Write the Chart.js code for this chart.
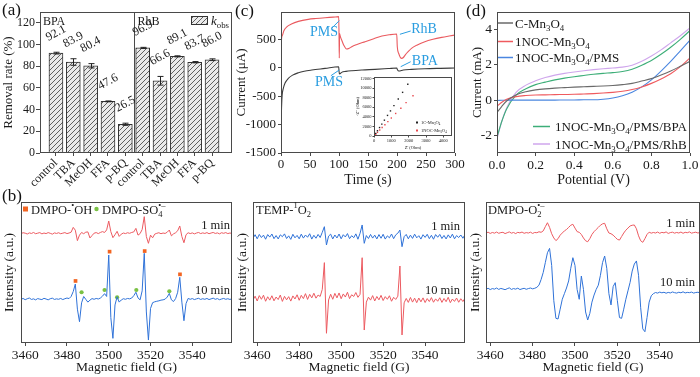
<!DOCTYPE html>
<html><head><meta charset="utf-8">
<script src="https://cdn.jsdelivr.net/npm/chart.js@4.4.0/dist/chart.umd.min.js"></script>
<style>
html,body{margin:0;padding:0;background:#fff;width:700px;height:377px;overflow:hidden;position:relative;font-family:"Liberation Serif","Times New Roman",serif}
canvas{position:absolute}
.pl{position:absolute;font-size:17px;color:#111;line-height:17px}
</style></head><body>
<canvas id="ca" width="240" height="190" style="left:0;top:0;width:240px;height:190px"></canvas>
<canvas id="cc" width="240" height="190" style="left:225px;top:0;width:240px;height:190px"></canvas>
<canvas id="ci" width="104" height="82" style="left:352px;top:72px;width:104px;height:82px"></canvas>
<canvas id="cd" width="240" height="190" style="left:460px;top:0;width:240px;height:190px"></canvas>
<canvas id="cb1" width="240" height="182" style="left:0;top:195px;width:240px;height:182px"></canvas>
<canvas id="cb2" width="240" height="182" style="left:230px;top:195px;width:240px;height:182px"></canvas>
<canvas id="cb3" width="240" height="182" style="left:460px;top:195px;width:240px;height:182px"></canvas>
<div class="pl" style="left:2px;top:1px">(a)</div>
<div class="pl" style="left:2px;top:187px">(b)</div>
<div class="pl" style="left:235px;top:2px">(c)</div>
<div class="pl" style="left:466px;top:2px">(d)</div>
<script>
// ---------------- DATA ----------------
// (a) removal rates
const scavengers = ['control','TBA','MeOH','FFA','p-BQ','control','TBA','MeOH','FFA','p-BQ'];
const removal = [92.1, 83.9, 80.4, 47.6, 26.5, 96.9, 66.6, 89.1, 83.7, 86.0];
const removalErr = [0.8, 3.0, 2.0, 0.4, 1.0, 0.5, 4.0, 0.5, 0.6, 0.8];
const barPos = [1,2,3,4,5,6,7,8,9,10];
const rateTicks = [0,20,40,60,80,100,120];

// (c) i-t curves
const timeRhB = [0,0.5,2,5,10,18,30,47,60,76,90,99.5,100,100.5,101,102,104.6,108,113,118,122,130,145,160,174,187,199.5,200.5,203,208,211,214,220,225,235,248,262,277,290,300];
const currentRhB = [-1500,400,560,650,720,769,815,851,866,880,890,898,610,170,600,560,487,400,329,345,370,405,458,510,557,580,593,370,250,164,180,223,290,340,400,458,500,534,558,575];
const timeBPA = [0,0.5,1,2,4,7,12.6,20,30,40,53,76,99.5,100,101,104.6,112,122,140,162,185,199.5,201,203,211,225,248,275,300];
const currentBPA = [-1500,-900,-687,-480,-364,-270,-188,-130,-88,-62,-41,-12,18,-60,-111,-82,-65,-53,-40,-29,-15,-6,-40,-59,-41,-30,-18,-11,-6];
const timeTicks = [0,50,100,150,200,250,300];
const currentTicks = [-1500,-1000,-500,0,500];
// (c) inset Nyquist
const zReC = [0,100,200,320,450,600,780,950,1150,1400,1650,1950];
const zImC = [0,550,1100,1760,2480,3300,4290,5230,6330,7700,9100,10800];
const zReN = [0,100,200,330,470,630,800,1000,1250,1550,1850,2250];
const zImN = [0,380,760,1240,1760,2360,3000,3750,4700,5800,6950,8400];
const zReTicks = [0,1000,2000,3000,4000];
const zImTicks = [0,2000,4000,6000,8000,10000,12000];

// (d) LSV
const potential = [0,0.025,0.05,0.1,0.15,0.2,0.25,0.3,0.35,0.4,0.45,0.5,0.55,0.6,0.65,0.7,0.75,0.8,0.85,0.9,0.95,1.0];
const lsvC = [-0.7,-0.35,-0.05,0.3,0.48,0.58,0.64,0.68,0.71,0.74,0.76,0.78,0.8,0.83,0.88,0.95,1.08,1.22,1.42,1.65,1.92,2.2];
const lsvN = [-0.35,-0.12,0.05,0.2,0.26,0.29,0.3,0.31,0.32,0.33,0.35,0.37,0.4,0.44,0.5,0.6,0.75,0.95,1.2,1.5,1.9,2.4];
const lsvPMS = [-0.02,-0.01,0,0,0,0,0,0,0.01,0.01,0.02,0.02,0.05,0.12,0.25,0.45,0.75,1.15,1.65,2.2,2.8,3.4];
const lsvBPA = [-2.1,-1.2,-0.5,0.3,0.65,0.88,1.02,1.15,1.25,1.33,1.4,1.47,1.52,1.56,1.62,1.75,1.98,2.25,2.6,3.0,3.45,3.95];
const lsvRhB = [-2.2,-1.2,-0.45,0.45,0.85,1.1,1.28,1.42,1.52,1.6,1.67,1.73,1.78,1.82,1.87,1.98,2.2,2.5,2.85,3.25,3.65,4.1];
const potTicks = [0,0.2,0.4,0.6,0.8,1.0];
const lsvTicks = [-2,0,2,4];

// (b) EPR spectra, one value per gauss starting at fieldStart
const fieldStart = 3458, fieldStep = 1;
const fieldTicks = [3460,3480,3500,3520,3540];
const ohOneMin = [77.6,78.2,77.9,77.3,78.1,77.7,78.4,77.5,77.9,78.3, 77.4,78.0,77.6,78.3,77.8,77.2,78.1,77.7,78.2,77.5,
 77.9,78.3,77.6,78.0,78.6,82.0,80.0,72.6,76.5,78.4, 77.5,78.6,78.8,74.5,76.2,77.9,78.3,77.6,78.4,79.0,
 78.4,80.2,86.5,79.0,74.7,76.8,79.2,75.6,77.2,78.0, 77.6,78.2,77.8,78.4,78.8,81.3,76.5,77.6,80.5,89.6,
 75.5,70.7,76.5,74.6,77.2,77.8,78.2,77.5,78.0,77.7, 78.6,80.1,76.0,77.4,78.2,79.6,83.0,75.5,71.1,76.8,
 78.2,77.6,78.1,77.4,78.0,78.4,77.6,78.1,77.7,78.3, 77.5,78.0,78.4,77.7,78.1,77.4,78.2,77.8,78.3,77.6, 78.0,77.7];
const ohTenMin = [31.0,31.6,30.7,31.4,31.9,30.9,31.3,30.6,31.5,31.1, 30.8,31.7,31.2,30.6,31.4,31.8,30.9,31.3,31.0,31.6,
 30.8,31.4,31.9,31.5,33.0,36.5,41.8,24.0,15.1,28.5, 33.0,31.0,29.0,30.4,31.5,31.0,31.6,31.2,31.9,33.2,
 35.0,33.0,62.4,18.0,3.3,27.0,32.8,29.0,30.5,31.4, 31.0,31.6,31.3,31.9,33.6,36.0,32.0,30.6,37.0,63.6,
 22.0,2.1,24.5,28.6,29.2,29.6,29.9,30.4,30.6,31.1, 32.6,35.2,30.6,29.4,31.5,36.0,46.6,29.0,15.8,28.0,
 31.6,31.0,31.5,30.8,31.3,31.7,30.9,31.4,31.0,31.6, 30.8,31.3,31.8,31.0,31.5,30.7,31.2,31.6,31.0,31.4, 30.9,31.3];
const ohMarkX = [3484.1,3500.4,3517.2,3534.1];
const ohMarkY = [44.0,64.8,65.2,48.7];
const so4MarkX = [3487,3498,3504,3513.2,3529];
const so4MarkY = [36.0,37.6,32.4,37.6,36.7];
const tempOneMin = [74.2,76.8,73.9,77.0,74.8,76.5,73.6,76.9,75.1,77.3, 74.0,76.2,73.8,76.7,75.4,77.4,74.1,76.0,73.5,77.1,
 74.6,76.3,73.9,77.2,74.4,76.6,75.0,77.5,73.7,76.4, 74.3,77.0,74.8,78.5,82.5,69.5,75.8,77.2,73.8,76.6,
 74.5,77.3,73.9,76.8,75.2,77.6,74.0,76.1,74.7,77.4, 73.6,77.8,83.7,70.7,76.2,74.1,77.0,74.4,76.5,73.8,
 76.9,74.3,77.1,73.7,76.0,74.6,77.3,74.0,76.7,77.9, 80.1,68.3,75.4,77.0,73.9,76.5,74.2,77.2,74.6,76.1,
 73.7,76.8,74.9,77.1,74.0,76.4,73.6,76.9,75.0,77.0, 74.1,76.3,73.8,76.7,74.5,77.2,73.9,76.2,74.8,76.6, 74.3,76.9];
const tempTenMin = [30.5,33.2,29.8,33.6,31.0,33.9,29.6,32.8,30.4,33.5, 29.9,32.6,30.8,34.0,29.5,33.1,30.6,32.9,29.7,33.4,
 31.2,34.2,30.3,33.8,31.5,35.0,30.9,34.5,32.0,35.3, 31.8,34.0,33.0,38.0,57.0,6.9,30.5,34.6,31.0,35.2,
 32.0,35.5,31.4,34.8,32.6,36.0,31.5,34.2,33.0,35.8, 32.4,34.5,60.5,9.2,29.0,32.5,30.4,33.6,29.8,33.0,
 30.6,33.8,30.1,32.9,31.0,33.5,29.6,32.4,30.9,33.2, 54.6,5.7,28.5,31.6,28.8,32.3,29.0,31.8,28.6,31.9,
 29.2,32.0,28.7,31.5,29.4,32.2,28.9,31.3,29.6,32.1, 28.8,31.6,29.3,32.4,28.6,31.2,29.5,31.9,28.9,31.4, 29.4,31.8];
const o2OneMin = [78.0,78.6,77.7,78.4,77.9,78.7,77.8,78.3,78.5,77.6, 78.2,78.8,77.9,78.4,77.6,78.5,78.1,78.7,77.8,78.3,
 78.0,78.6,77.7,78.4,78.2,78.9,78.5,79.5,82.5,85.3, 82.0,77.5,74.5,72.6,74.0,76.5,78.0,79.5,80.5,82.0,
 83.5,84.2,81.5,79.0,78.5,77.0,74.5,72.5,71.8,74.0, 77.0,79.0,80.5,82.0,83.5,84.5,84.9,81.0,78.0,77.5,
 76.5,75.0,73.5,73.0,75.5,78.0,80.0,81.5,83.0,83.5, 83.7,81.0,76.0,72.5,71.4,74.0,77.0,78.6,77.9,78.4,
 78.0,78.7,77.8,78.5,78.1,78.8,77.7,78.3,78.6,77.9, 78.4,78.0,78.7,77.8,78.5,78.2,78.8,77.9,78.3,78.6, 78.0,78.4];
const o2TenMin = [38.1,38.8,37.9,38.6,38.2,39.0,38.0,38.7,38.3,37.8, 38.5,39.1,38.0,38.6,38.2,38.9,37.9,38.4,38.8,38.1,
 38.6,39.0,38.4,38.8,39.5,41.0,45.0,50.0,57.0,64.0, 67.1,55.0,30.0,17.5,17.0,24.0,31.0,35.0,39.0,44.0,
 53.0,60.5,55.0,38.0,31.0,47.5,38.0,22.0,16.3,21.0, 29.0,34.0,38.0,41.0,48.0,57.0,61.7,53.0,35.0,27.0,
 40.0,42.8,30.0,18.0,17.5,24.0,31.0,37.0,43.0,51.0, 56.0,58.2,48.0,25.0,10.0,8.0,18.0,29.0,33.5,35.0,
 35.8,35.4,36.1,35.6,36.0,35.3,35.9,35.5,36.2,35.7, 35.4,36.0,35.6,36.3,35.5,35.9,35.7,36.1,35.4,35.8, 36.0,35.6];

// ---------------- STYLE / HELPERS ----------------
const SERIF = '"Liberation Serif","Times New Roman",serif';
const AXIS = '#4a4a4a', TXT = '#1a1a1a', NOTE = '#2a9de0';
Chart.defaults.font.family = SERIF;
Chart.defaults.font.size = 13;
Chart.defaults.color = TXT;
Chart.defaults.animation = false;
Chart.defaults.responsive = false;
Chart.defaults.plugins.legend.display = false;
Chart.defaults.plugins.tooltip.enabled = false;
Chart.defaults.elements.point.radius = 0;
Chart.defaults.elements.line.borderWidth = 1;

function axis(o){
  return {
    type:'linear', min:o.min, max:o.max, offset:false,
    afterBuildTicks: s => { s.ticks = o.ticks.map(v=>({value:v})); },
    afterFit: s => {
      if (o.horizontal) s.height = o.size; else s.width = o.size;
      s.paddingLeft = 0; s.paddingRight = 0; s.paddingTop = 0; s.paddingBottom = 0;
    },
    border:{display:false},
    grid:{drawOnChartArea:false, drawTicks:o.tickLen!==0, tickLength:o.tickLen===undefined?4:o.tickLen, color:AXIS, offset:false},
    ticks:{display:o.showLabels!==false, font:{size:o.tickFont||13}, padding:o.tickPad===undefined?2:o.tickPad,
      autoSkip:false, maxRotation:o.rotate||0, minRotation:o.rotate||0, color:TXT,
      callback: o.labels ? (v,i)=>o.labels[i] : (o.fmt || (v=>String(v)))},
    title: o.title ? {display:true, text:o.title, font:{size:o.titleFont||13}, padding:o.titlePad||{top:0,bottom:0}, color:TXT} : {display:false}
  };
}
const frame = { id:'frame', afterDraw(chart){
  const {ctx, chartArea:a} = chart; ctx.save(); ctx.strokeStyle = AXIS; ctx.lineWidth = 1;
  ctx.strokeRect(Math.round(a.left)+0.5, Math.round(a.top)+0.5, Math.round(a.right-a.left)-1, Math.round(a.bottom-a.top)-1);
  ctx.restore(); } };
function rich(ctx, x, y, parts, size, align, color){
  const fnt = (sz,it)=>`${it?'italic ':''}${sz}px ${SERIF}`;
  let w=0, ls=0, le=0; const pos=[];
  parts.forEach(([t,k])=>{
    const small = k==='sub'||k==='sup'||k==='supo';
    ctx.font = fnt(small?size*0.68:size, k==='it');
    const tw = ctx.measureText(t).width;
    if (k==='supo'){ pos.push(ls); w = Math.max(le, ls+tw); }
    else { pos.push(w); ls=w; le=w+tw; w=w+tw; }
  });
  const x0 = align==='right'? x-w : align==='center'? x-w/2 : x;
  ctx.save(); ctx.fillStyle = color||TXT; ctx.textAlign='left'; ctx.textBaseline='alphabetic';
  parts.forEach(([t,k],i)=>{
    const small = k==='sub'||k==='sup'||k==='supo';
    ctx.font = fnt(small?size*0.68:size, k==='it');
    const dy = k==='sub'? size*0.25 : (k==='sup'||k==='supo')? -size*0.42 : 0;
    ctx.fillText(t, x0+pos[i], y+dy);
  });
  ctx.restore(); return w;
}
function textPlugin(fn){ return { id:'txt'+Math.random().toString(36).slice(2), afterDraw(chart){ fn(chart, chart.ctx); } }; }
const xy = (xs, ys) => xs.map((x,i)=>({x, y:ys[i]}));

// hatch pattern
function hatchPattern(){
  const c = document.createElement('canvas'); c.width = c.height = 5;
  const g = c.getContext('2d'); g.fillStyle = '#eaeaea'; g.fillRect(0,0,5,5);
  g.strokeStyle = '#505050'; g.lineWidth = 0.9; g.beginPath();
  g.moveTo(0,5); g.lineTo(5,0); g.moveTo(-1,1); g.lineTo(1,-1); g.moveTo(4,6); g.lineTo(6,4); g.stroke();
  return g.createPattern(c, 'repeat');
}
const HATCH = hatchPattern();

// ---------------- (a) ----------------
const barExtras = { id:'barExtras', afterDatasetsDraw(chart){
  const {ctx, scales:{x,y}, chartArea:a} = chart; const meta = chart.getDatasetMeta(0);
  ctx.save();
  const dx = Math.round(x.getPixelForValue((barPos[4]+barPos[5])/2))+0.5;
  ctx.strokeStyle = AXIS; ctx.lineWidth = 1; ctx.beginPath(); ctx.moveTo(dx,a.top); ctx.lineTo(dx,a.bottom); ctx.stroke();
  ctx.strokeStyle = '#222';
  meta.data.forEach((bar,i)=>{
    const v = removal[i], e = removalErr[i], cx = Math.round(bar.x)+0.5;
    const yt = y.getPixelForValue(v+e), yb = y.getPixelForValue(v-e);
    ctx.beginPath(); ctx.moveTo(cx,yt); ctx.lineTo(cx,yb); ctx.moveTo(cx-3,yt); ctx.lineTo(cx+3,yt); ctx.moveTo(cx-3,yb); ctx.lineTo(cx+3,yb); ctx.stroke();
    ctx.save(); ctx.translate(bar.x, yt-19); ctx.rotate(-28*Math.PI/180);
    ctx.font = `12px ${SERIF}`; ctx.fillStyle = TXT; ctx.textAlign='center'; ctx.textBaseline='middle';
    ctx.fillText(v.toFixed(1), 0, 0); ctx.restore();
  });
  ctx.font = `12px ${SERIF}`; ctx.fillStyle = TXT; ctx.textAlign='left'; ctx.textBaseline='alphabetic';
  ctx.fillText('BPA', a.left+3, a.top+13); ctx.fillText('RhB', dx+3, a.top+13);
  ctx.fillStyle = HATCH; ctx.fillRect(191,16,17,9); ctx.strokeStyle='#333'; ctx.strokeRect(191.5,16.5,16,8);
  ctx.restore();
  rich(ctx, 211, 25, [['k','it'],['obs','sub']], 13, 'left');
} };
new Chart(document.getElementById('ca'), {
  type:'bar',
  data:{datasets:[{data: xy(barPos, removal), backgroundColor: HATCH, borderColor:'#333', borderWidth:1, barThickness:14}]},
  options:{
    layout:{padding:{left:0, top:12, right:8, bottom:0}},
    scales:{
      x: axis({min:0.08, max:11.15, ticks:barPos, labels:scavengers, horizontal:true, size:37, rotate:45, tickFont:12, tickPad:0, tickLen:3}),
      y: axis({min:0, max:130, ticks:rateTicks, size:40, tickFont:12, tickPad:1, title:'Removal rate (%)', titleFont:13, titlePad:{top:1,bottom:0}})
    }
  },
  plugins:[barExtras, frame]
});

// ---------------- (c) ----------------
const cNotes = [
  {text:'PMS', at:[74,628], from:[87.4,694], to:[100.5,828]},
  {text:'RhB', at:[246.7,681], from:[223.6,646], to:[205,588]},
  {text:'BPA', at:[248,118], from:[223.6,106], to:[206.4,18]},
  {text:'PMS', at:[82.8,-252], from:[86,-141], to:[100.5,-40]}
];
new Chart(document.getElementById('cc'), {
  type:'line',
  data:{datasets:[
    {data: xy(timeBPA, currentBPA), borderColor:'#3c3c3c', borderWidth:1.1, cubicInterpolationMode:'monotone'},
    {data: xy(timeRhB, currentRhB), borderColor:'#ea5a5f', borderWidth:1.1, cubicInterpolationMode:'monotone'}
  ]},
  options:{
    layout:{padding:{left:0, top:12, right:10, bottom:0}},
    scales:{
      x: axis({min:0, max:300, ticks:timeTicks, horizontal:true, size:37, tickLen:3, tickPad:1, title:'Time (s)', titleFont:14, titlePad:{top:0,bottom:1}}),
      y: axis({min:-1500, max:980, ticks:currentTicks, size:56, tickLen:3, tickPad:2, title:'Current (\u03bcA)', titleFont:13, titlePad:{top:9,bottom:0}})
    }
  },
  plugins:[frame, textPlugin((chart, ctx)=>{
    const {x,y} = chart.scales; ctx.save();
    ctx.strokeStyle = NOTE; ctx.lineWidth = 1; ctx.fillStyle = NOTE; ctx.font = `14px ${SERIF}`; ctx.textAlign='center'; ctx.textBaseline='middle';
    cNotes.forEach(n=>{
      ctx.beginPath(); ctx.moveTo(x.getPixelForValue(n.from[0]), y.getPixelForValue(n.from[1]));
      ctx.lineTo(x.getPixelForValue(n.to[0]), y.getPixelForValue(n.to[1])); ctx.stroke();
      ctx.fillText(n.text, x.getPixelForValue(n.at[0]), y.getPixelForValue(n.at[1]));
    });
    ctx.restore();
  })]
});
// inset
new Chart(document.getElementById('ci'), {
  type:'scatter',
  data:{datasets:[
    {data: xy(zReC, zImC), backgroundColor:'#222', borderColor:'#222', pointStyle:'rect', pointRadius:1, borderWidth:0},
    {data: xy(zReN, zImN), backgroundColor:'#e84a4f', borderColor:'#e84a4f', pointStyle:'rect', pointRadius:1, borderWidth:0}
  ]},
  options:{
    layout:{padding:{left:0, top:5, right:1, bottom:0}},
    scales:{
      x: axis({min:0, max:4500, ticks:zReTicks, horizontal:true, size:18, tickLen:1.5, tickPad:1, tickFont:4.5, title:"Z' (Ohm)", titleFont:4.5, titlePad:{top:0,bottom:3}}),
      y: axis({min:0, max:12300, ticks:zImTicks, size:22, tickLen:1.5, tickPad:1, tickFont:4.5, title:"-Z'' (Ohm)", titleFont:4.5, titlePad:{top:3,bottom:0}})
    }
  },
  plugins:[frame, textPlugin((chart, ctx)=>{
    ctx.save(); ctx.fillStyle='#222'; ctx.fillRect(64,49.5,2,2); ctx.fillStyle='#e84a4f'; ctx.fillRect(64,57.5,2,2); ctx.restore();
    rich(ctx, 69, 52.3, [['1C-Mn'],['3','sub'],['O'],['4','sub']], 4.5, 'left');
    rich(ctx, 69, 60.3, [['1NOC-Mn'],['3','sub'],['O'],['4','sub']], 4.5, 'left');
  })]
});

// ---------------- (d) ----------------
const dColors = ['#6a6a6a','#ef5a5e','#4a86e0','#3dae78','#cfa6ec'];
const dLegend = [
  {parts:[['C-Mn'],['3','sub'],['O'],['4','sub']], lx:[38,53], tx:55, y:23},
  {parts:[['1NOC-Mn'],['3','sub'],['O'],['4','sub']], lx:[38,53], tx:55, y:41.5},
  {parts:[['1NOC-Mn'],['3','sub'],['O'],['4','sub'],['/PMS']], lx:[38,53], tx:55, y:57.5},
  {parts:[['1NOC-Mn'],['3','sub'],['O'],['4','sub'],['/PMS/BPA']], lx:[73,90], tx:95, y:126.5},
  {parts:[['1NOC-Mn'],['3','sub'],['O'],['4','sub'],['/PMS/RhB']], lx:[73,90], tx:95, y:144}
];
new Chart(document.getElementById('cd'), {
  type:'line',
  data:{datasets:[
    {data: xy(potential, lsvC), borderColor:dColors[0]},
    {data: xy(potential, lsvN), borderColor:dColors[1]},
    {data: xy(potential, lsvPMS), borderColor:dColors[2]},
    {data: xy(potential, lsvBPA), borderColor:dColors[3]},
    {data: xy(potential, lsvRhB), borderColor:dColors[4]}
  ].map(d=>Object.assign(d,{borderWidth:1.1, cubicInterpolationMode:'monotone'}))},
  options:{
    layout:{padding:{left:0, top:12, right:10, bottom:0}},
    scales:{
      x: axis({min:0, max:1, ticks:potTicks, horizontal:true, size:37, tickLen:3, tickPad:1, fmt:v=>v.toFixed(1), tickFont:13.5, title:'Potential (V)', titleFont:14, titlePad:{top:0,bottom:1}}),
      y: axis({min:-3, max:5, ticks:lsvTicks, size:37, tickLen:3, tickPad:2, tickFont:13.5, title:'Current (mA)', titleFont:13, titlePad:{top:10,bottom:0}})
    }
  },
  plugins:[frame, textPlugin((chart, ctx)=>{
    dLegend.forEach((l,i)=>{
      ctx.save(); ctx.strokeStyle = dColors[i]; ctx.lineWidth = 1.5; ctx.beginPath();
      ctx.moveTo(l.lx[0], l.y); ctx.lineTo(l.lx[1], l.y); ctx.stroke(); ctx.restore();
      rich(ctx, l.tx, l.y+4.5, l.parts, 13, 'left');
    });
  })]
});

// ---------------- (b) ----------------
const field = ohTenMin.map((_,i)=>fieldStart + i*fieldStep);
function esr(id, padR, yW, tPad, sets, draw){
  return new Chart(document.getElementById(id), {
    type:'line',
    data:{datasets: sets},
    options:{
      layout:{padding:{left:0, top:7, right:padR, bottom:0}},
      scales:{
        x: axis({min:3458, max:3559, ticks:fieldTicks, horizontal:true, size:34, tickLen:3, tickPad:1, tickFont:13.5, title:'Magnetic field (G)', titleFont:13.5, titlePad:{top:0,bottom:1}}),
        y: axis({min:0, max:100, ticks:[], size:yW, tickLen:0, showLabels:false, title:'Intensity (a.u.)', titleFont:13.5, titlePad:{top:tPad,bottom:0}})
      }
    },
    plugins:[frame, textPlugin(draw)]
  });
}
const RED = '#ec5a60', BLUE = '#2f72d8';
esr('cb1', 8, 21, 1, [
  {data: xy(field, ohOneMin), borderColor:RED},
  {data: xy(field, ohTenMin), borderColor:BLUE},
  {data: xy(ohMarkX, ohMarkY), showLine:false, pointRadius:2.6, pointStyle:'rect', backgroundColor:'#f26522', borderWidth:0},
  {data: xy(so4MarkX, so4MarkY), showLine:false, pointRadius:2.1, pointStyle:'circle', backgroundColor:'#7ac143', borderWidth:0}
], (chart, ctx)=>{
  ctx.save(); ctx.fillStyle='#f26522'; ctx.fillRect(23,11.5,5,5); ctx.fillStyle='#7ac143'; ctx.beginPath(); ctx.arc(96.5,14,2.2,0,Math.PI*2); ctx.fill(); ctx.restore();
  rich(ctx, 31, 18.5, [['DMPO-'],['\u2022','sup'],['OH']], 12.5, 'left');
  rich(ctx, 102, 18.5, [['DMPO-SO'],['4','sub'],['\u2022\u2013','supo']], 12.5, 'left');
  rich(ctx, 230, 34, [['1 min']], 12.5, 'right');
  rich(ctx, 230, 99, [['10 min']], 12.5, 'right');
});
esr('cb2', 5, 23, 4, [
  {data: xy(field, tempOneMin), borderColor:BLUE},
  {data: xy(field, tempTenMin), borderColor:RED}
], (chart, ctx)=>{
  rich(ctx, 26, 18.5, [['TEMP-'],['1','sup'],['O'],['2','sub']], 12.5, 'left');
  rich(ctx, 230, 35, [['1 min']], 12.5, 'right');
  rich(ctx, 230, 99, [['10 min']], 12.5, 'right');
});
esr('cb3', 0, 26, 7, [
  {data: xy(field, o2OneMin), borderColor:RED},
  {data: xy(field, o2TenMin), borderColor:BLUE}
], (chart, ctx)=>{
  rich(ctx, 28, 18.5, [['DMPO-O'],['2','sub'],['\u2022\u2013','supo']], 12.5, 'left');
  rich(ctx, 235, 32, [['1 min']], 12.5, 'right');
  rich(ctx, 235, 91, [['10 min']], 12.5, 'right');
});
</script>
</body></html>
